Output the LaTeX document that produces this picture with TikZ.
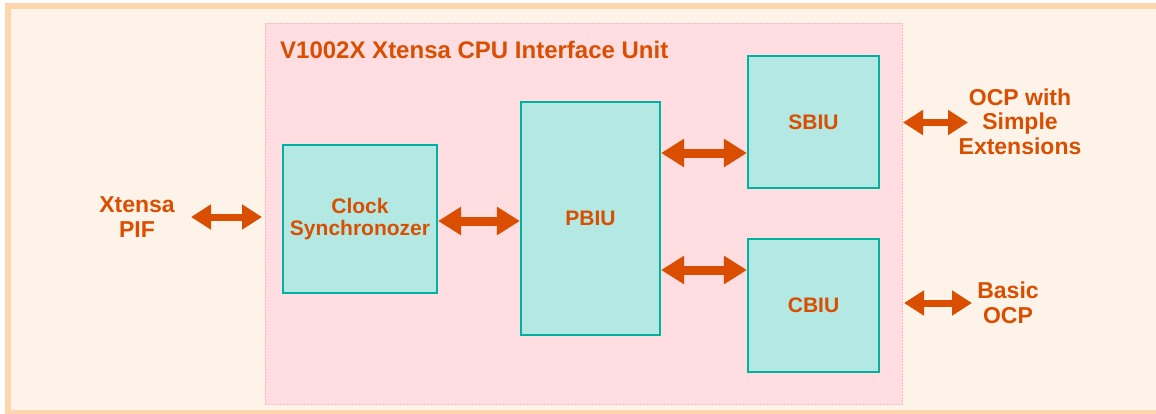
\documentclass[tikz,border=0pt]{standalone}
\usepackage{fontspec}
\setmainfont{Liberation Sans}
\usetikzlibrary{arrows.meta}
\definecolor{orng}{RGB}{217,78,0}
\definecolor{framec}{RGB}{255,213,174}
\definecolor{bgc}{RGB}{254,243,232}
\definecolor{pinkf}{RGB}{255,221,224}
\definecolor{pinkb}{RGB}{255,182,190}
\definecolor{tealf}{RGB}{179,233,226}
\definecolor{tealb}{RGB}{0,176,160}
\tikzset{
  blk/.style={draw=tealb, fill=tealf, line width=2.2pt, inner sep=0pt, text=orng,
    font=\bfseries\fontsize{21}{22}\selectfont, align=center},
  lbl/.style={text=orng, inner sep=0pt, align=center, font=\bfseries\fontsize{23}{24.5}\selectfont},
  bigarr/.style={draw=orng, line width=9pt, {Triangle[width=27pt,length=23pt]}-{Triangle[width=27pt,length=23pt]}},
  smallarr/.style={draw=orng, line width=7pt, {Triangle[width=24pt,length=20pt]}-{Triangle[width=24pt,length=20pt]}},
}
\begin{document}
\begin{tikzpicture}[x=1pt,y=-1pt]
\useasboundingbox (0,0) rectangle (1156,413);
\clip (0,0) rectangle (1156,413);
\draw[line width=6pt, draw=framec, fill=bgc] (8,6) rectangle (1175,413);
\node[draw=pinkb, fill=pinkf, line width=0.8pt, dash pattern=on 2pt off 1pt,
      minimum width=637pt, minimum height=381pt, inner sep=0pt] (cpu) at (583.5,213.5) {};
\node[anchor=base west, text=orng, inner sep=0pt, font=\bfseries\fontsize{24}{25}\selectfont] (title) at (280,58) {V1002X Xtensa CPU Interface Unit};
\node[blk, minimum width=154pt, minimum height=148pt] (clk) at (360,219) {Clock\\Synchronozer};
\node[blk, minimum width=139pt, minimum height=233pt] (pbiu) at (590.5,218.5) {PBIU};
\node[blk, minimum width=131pt, minimum height=132pt] (sbiu) at (813.5,122) {SBIU};
\node[blk, minimum width=131pt, minimum height=133pt] (cbiu) at (813.5,305.5) {CBIU};
\node[lbl] (pif) at (137,217) {Xtensa\\PIF};
\node[lbl] (ocps) at (1020,121.5) {OCP with\\Simple\\Extensions};
\node[lbl] (ocpb) at (1008,303) {Basic\\OCP};
\coordinate (a1s) at (191,217);
\coordinate (a1e) at (262,217);
\coordinate (a5s) at (903,122.5);
\coordinate (a5e) at (968,122.5);
\coordinate (a6s) at (904,303);
\coordinate (a6e) at (972,303);
\draw[smallarr] (a1s) -- (a1e);
\draw[bigarr] (clk.east |- 0,221) -- (pbiu.west |- 0,221);
\draw[bigarr] (pbiu.east |- 0,153) -- (sbiu.west |- 0,153);
\draw[bigarr] (pbiu.east |- 0,270) -- (cbiu.west |- 0,270);
\draw[smallarr] (a5s) -- (a5e);
\draw[smallarr] (a6s) -- (a6e);
\end{tikzpicture}
\end{document}
